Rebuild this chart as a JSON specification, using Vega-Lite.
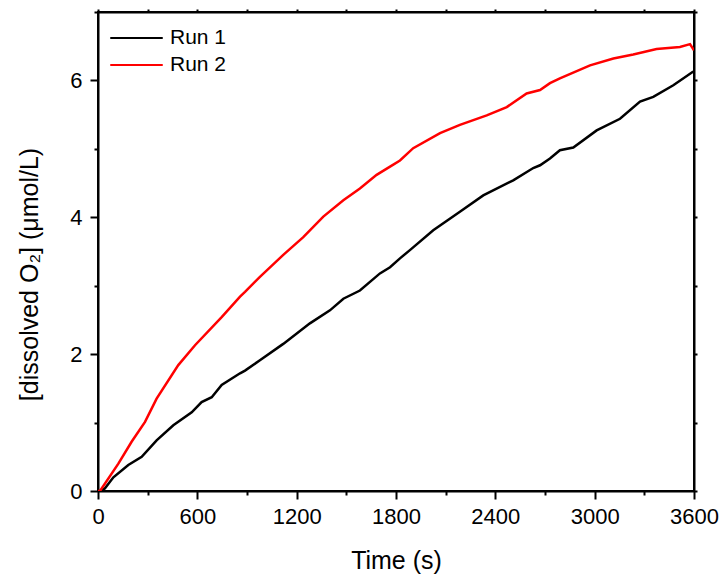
{
  "$schema": "https://vega.github.io/schema/vega-lite/v6.json",
  "width": 596,
  "height": 479,
  "autosize": {"type": "none"},
  "padding": {"left": 98, "top": 12, "right": 34, "bottom": 88},
  "background": "white",
  "config": {
    "view": {"stroke": "black", "strokeWidth": 2},
    "font": "Liberation Sans",
    "axis": {"labelFont": "Liberation Sans", "titleFont": "Liberation Sans", "titleFontWeight": "normal", "labelColor": "black", "titleColor": "black", "domainColor": "black", "tickColor": "black", "domainWidth": 2, "tickWidth": 2, "grid": false}
  },
  "data": {"values": [
    {"t": 0, "v": 0, "run": "Run 1"},
    {"t": 20, "v": 0.0, "run": "Run 1"},
    {"t": 42, "v": 0.04, "run": "Run 1"},
    {"t": 93, "v": 0.20, "run": "Run 1"},
    {"t": 183, "v": 0.38, "run": "Run 1"},
    {"t": 264, "v": 0.50, "run": "Run 1"},
    {"t": 354, "v": 0.74, "run": "Run 1"},
    {"t": 455, "v": 0.96, "run": "Run 1"},
    {"t": 566, "v": 1.15, "run": "Run 1"},
    {"t": 626, "v": 1.30, "run": "Run 1"},
    {"t": 687, "v": 1.37, "run": "Run 1"},
    {"t": 747, "v": 1.55, "run": "Run 1"},
    {"t": 858, "v": 1.72, "run": "Run 1"},
    {"t": 888, "v": 1.76, "run": "Run 1"},
    {"t": 978, "v": 1.91, "run": "Run 1"},
    {"t": 1119, "v": 2.15, "run": "Run 1"},
    {"t": 1280, "v": 2.45, "run": "Run 1"},
    {"t": 1401, "v": 2.64, "run": "Run 1"},
    {"t": 1482, "v": 2.81, "run": "Run 1"},
    {"t": 1582, "v": 2.93, "run": "Run 1"},
    {"t": 1703, "v": 3.18, "run": "Run 1"},
    {"t": 1764, "v": 3.27, "run": "Run 1"},
    {"t": 1824, "v": 3.40, "run": "Run 1"},
    {"t": 1884, "v": 3.52, "run": "Run 1"},
    {"t": 2025, "v": 3.81, "run": "Run 1"},
    {"t": 2186, "v": 4.08, "run": "Run 1"},
    {"t": 2327, "v": 4.32, "run": "Run 1"},
    {"t": 2508, "v": 4.54, "run": "Run 1"},
    {"t": 2629, "v": 4.72, "run": "Run 1"},
    {"t": 2670, "v": 4.76, "run": "Run 1"},
    {"t": 2730, "v": 4.86, "run": "Run 1"},
    {"t": 2790, "v": 4.98, "run": "Run 1"},
    {"t": 2871, "v": 5.02, "run": "Run 1"},
    {"t": 3012, "v": 5.27, "run": "Run 1"},
    {"t": 3153, "v": 5.44, "run": "Run 1"},
    {"t": 3274, "v": 5.69, "run": "Run 1"},
    {"t": 3354, "v": 5.76, "run": "Run 1"},
    {"t": 3475, "v": 5.93, "run": "Run 1"},
    {"t": 3596, "v": 6.13, "run": "Run 1"},
    {"t": 0, "v": 0, "run": "Run 2"},
    {"t": 12, "v": 0.0, "run": "Run 2"},
    {"t": 123, "v": 0.40, "run": "Run 2"},
    {"t": 203, "v": 0.72, "run": "Run 2"},
    {"t": 284, "v": 1.01, "run": "Run 2"},
    {"t": 354, "v": 1.35, "run": "Run 2"},
    {"t": 485, "v": 1.84, "run": "Run 2"},
    {"t": 586, "v": 2.13, "run": "Run 2"},
    {"t": 747, "v": 2.54, "run": "Run 2"},
    {"t": 858, "v": 2.84, "run": "Run 2"},
    {"t": 888, "v": 2.91, "run": "Run 2"},
    {"t": 978, "v": 3.13, "run": "Run 2"},
    {"t": 1119, "v": 3.45, "run": "Run 2"},
    {"t": 1240, "v": 3.71, "run": "Run 2"},
    {"t": 1361, "v": 4.01, "run": "Run 2"},
    {"t": 1482, "v": 4.25, "run": "Run 2"},
    {"t": 1582, "v": 4.42, "run": "Run 2"},
    {"t": 1683, "v": 4.62, "run": "Run 2"},
    {"t": 1764, "v": 4.74, "run": "Run 2"},
    {"t": 1824, "v": 4.83, "run": "Run 2"},
    {"t": 1904, "v": 5.01, "run": "Run 2"},
    {"t": 2066, "v": 5.23, "run": "Run 2"},
    {"t": 2186, "v": 5.35, "run": "Run 2"},
    {"t": 2348, "v": 5.49, "run": "Run 2"},
    {"t": 2469, "v": 5.61, "run": "Run 2"},
    {"t": 2589, "v": 5.81, "run": "Run 2"},
    {"t": 2670, "v": 5.86, "run": "Run 2"},
    {"t": 2730, "v": 5.96, "run": "Run 2"},
    {"t": 2790, "v": 6.03, "run": "Run 2"},
    {"t": 2972, "v": 6.22, "run": "Run 2"},
    {"t": 3113, "v": 6.32, "run": "Run 2"},
    {"t": 3233, "v": 6.38, "run": "Run 2"},
    {"t": 3374, "v": 6.46, "run": "Run 2"},
    {"t": 3515, "v": 6.49, "run": "Run 2"},
    {"t": 3576, "v": 6.53, "run": "Run 2"},
    {"t": 3600, "v": 6.44, "run": "Run 2"}
  ]},
  "resolve": {"axis": {"x": "independent", "y": "independent"}},
  "layer": [
    {
      "mark": {"type": "line", "strokeWidth": 2.5, "clip": true},
      "encoding": {
        "x": {"field": "t", "type": "quantitative", "scale": {"domain": [0, 3600], "nice": false},
          "axis": {"orient": "bottom", "values": [0,300,600,900,1200,1500,1800,2100,2400,2700,3000,3300,3600],
            "labelExpr": "datum.value % 600 === 0 ? datum.label : ''", "format": "d",
            "tickSize": {"condition": {"test": "datum.value % 600 === 0", "value": 8}, "value": 4},
            "labelFontSize": 22, "labelPadding": 7, "labelFlush": false, "labelOverlap": false,
            "title": "Time (s)", "titleFontSize": 25, "titleBaseline": "alphabetic", "titleY": 77}},
        "y": {"field": "v", "type": "quantitative", "scale": {"domain": [0, 7], "nice": false},
          "axis": {"orient": "left", "values": [0,1,2,3,4,5,6,7],
            "labelExpr": "datum.value % 2 === 0 && datum.value < 7 ? datum.label : ''",
            "tickSize": {"condition": {"test": "datum.value % 2 === 0", "value": 8}, "value": 4},
            "labelFontSize": 22, "labelPadding": 8, "labelFlush": false, "labelOverlap": false,
            "title": "[dissolved O₂] (μmol/L)", "titleFontSize": 25, "titleX": -69, "titleY": 262,
            "titleAlign": "center", "titleBaseline": "middle", "titleAngle": -90}},
        "color": {"field": "run", "type": "nominal",
          "scale": {"domain": ["Run 1", "Run 2"], "range": ["black", "red"]},
          "legend": {"orient": "none", "legendX": 27, "legendY": 14.5, "title": null,
            "symbolType": "M-2.5,0H2.5", "symbolSize": 441, "symbolStrokeWidth": 2, "symbolFillColor": "transparent",
            "labelFontSize": 21, "labelFont": "Liberation Sans", "labelColor": "black", "labelOffset": 22, "rowPadding": 5, "padding": 0}}
      }
    },
    {
      "mark": {"type": "line", "strokeOpacity": 0},
      "encoding": {
        "x": {"field": "t", "type": "quantitative", "scale": {"domain": [0, 3600], "nice": false},
          "axis": {"orient": "top", "values": [0,300,600,900,1200,1500,1800,2100,2400,2700,3000,3300,3600], "labels": false, "title": null, "tickSize": 3}},
        "y": {"field": "v", "type": "quantitative", "scale": {"domain": [0, 7], "nice": false},
          "axis": {"orient": "right", "values": [0,1,2,3,4,5,6,7], "labels": false, "title": null, "tickSize": 3}},
        "detail": {"field": "run"}
      }
    }
  ]
}
